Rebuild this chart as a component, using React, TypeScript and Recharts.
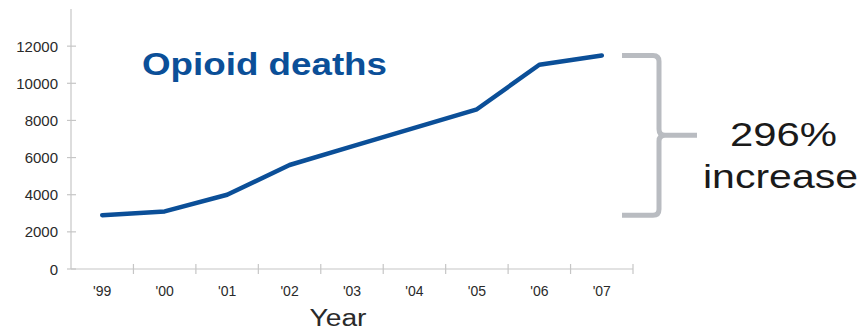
import React from "react";
import { LineChart, Line, XAxis, YAxis } from "recharts";

// Opioid deaths per year, 1999–2007
const years = ["'99", "'00", "'01", "'02", "'03", "'04", "'05", "'06", "'07"];
const deaths = [2900, 3100, 4000, 5600, 6600, 7600, 8600, 11000, 11500];
const yTicks = [0, 2000, 4000, 6000, 8000, 10000, 12000];
const Y_MAX = 14000;

const increaseLabel = ["296%", "increase"];
const titleText = "Opioid deaths";
const xAxisTitle = "Year";

const data = years.map((year, i) => ({ year, deaths: deaths[i] }));

// Layout
const W = 866;
const H = 331;
const MARGIN = { top: 9, right: 233, bottom: 0, left: 0 };
const Y_AXIS_W = 71;
const X_AXIS_H = 62;
const plotLeft = MARGIN.left + Y_AXIS_W;
const plotRight = W - MARGIN.right;
const plotTop = MARGIN.top;
const plotBottom = H - MARGIN.bottom - X_AXIS_H;
const band = (plotRight - plotLeft) / years.length;
const yFor = (v: number) => plotBottom - (v / Y_MAX) * (plotBottom - plotTop);

const AXIS_COLOR = "#c6c6c6";
const TEXT_COLOR = "#2a2a2a";
const BLUE = "#0b4f98";
const BRACKET = "#b9bcc1";
const FONT = "'Liberation Sans', Arial, sans-serif";

const XTick = (props: any) => {
  const { x, payload } = props;
  const mx = x + band / 2;
  return (
    <g>
      <line x1={mx} x2={mx} y1={plotBottom - 5} y2={plotBottom + 5} stroke={AXIS_COLOR} strokeWidth={1.2} />
      <text x={x} y={plotBottom + 27} textAnchor="middle" fontSize={14} fontFamily={FONT} fill={TEXT_COLOR}>
        {payload.value}
      </text>
    </g>
  );
};

const YTick = (props: any) => {
  const { y, payload } = props;
  return (
    <g>
      <line x1={plotLeft - 4} x2={plotLeft + 5} y1={y} y2={y} stroke={AXIS_COLOR} strokeWidth={1.2} />
      <text x={58} y={y + 5.5} textAnchor="end" fontSize={15} fontFamily={FONT} fill={TEXT_COLOR}>
        {payload.value}
      </text>
    </g>
  );
};

// Curly bracket spanning first to last value
const Bracket = () => {
  const yTop = yFor(deaths[deaths.length - 1]);
  const yBot = yFor(deaths[0]);
  const yMid = (yTop + yBot) / 2;
  const x0 = 622;
  const xv = 659;
  const xn = 697;
  const r = 6;
  const d = [
    `M ${x0} ${yTop} H ${xv - r} Q ${xv} ${yTop} ${xv} ${yTop + r}`,
    `V ${yMid - r} Q ${xv} ${yMid} ${xv + r} ${yMid} H ${xn}`,
    `M ${xv + r} ${yMid} Q ${xv} ${yMid} ${xv} ${yMid + r}`,
    `V ${yBot - r} Q ${xv} ${yBot} ${xv - r} ${yBot} H ${x0}`,
  ].join(" ");
  return <path d={d} fill="none" stroke={BRACKET} strokeWidth={5} />;
};

export default function App() {
  return (
    <div style={{ position: "absolute", left: 0, top: 0, width: W, height: H, background: "#fff" }}>
      <LineChart width={W} height={H} data={data} margin={MARGIN}>
        <XAxis
          dataKey="year"
          height={X_AXIS_H}
          padding={{ left: band / 2, right: band / 2 }}
          axisLine={{ stroke: AXIS_COLOR, strokeWidth: 1.2 }}
          tickLine={false}
          tick={<XTick />}
          interval={0}
        />
        <YAxis
          width={Y_AXIS_W}
          domain={[0, Y_MAX]}
          ticks={yTicks}
          interval={0}
          axisLine={{ stroke: AXIS_COLOR, strokeWidth: 1.2 }}
          tickLine={false}
          tick={<YTick />}
        />
        <Line
          type="linear"
          dataKey="deaths"
          stroke={BLUE}
          strokeWidth={4.5}
          strokeLinecap="round"
          strokeLinejoin="round"
          dot={false}
          isAnimationActive={false}
        />
        <text
          x={142}
          y={75}
          fontSize={32}
          fontWeight="bold"
          fontFamily={FONT}
          fill={BLUE}
          textLength={245}
          lengthAdjust="spacingAndGlyphs"
        >
          {titleText}
        </text>
        <text
          x={338}
          y={326}
          textAnchor="middle"
          fontSize={23}
          fontFamily={FONT}
          fill={TEXT_COLOR}
          textLength={57}
          lengthAdjust="spacingAndGlyphs"
        >
          {xAxisTitle}
        </text>
        <Bracket />
        <text
          x={730}
          y={146}
          fontSize={33}
          fontFamily={FONT}
          fill="#1a1a1a"
          textLength={107}
          lengthAdjust="spacingAndGlyphs"
        >
          {increaseLabel[0]}
        </text>
        <text
          x={703}
          y={188}
          fontSize={33}
          fontFamily={FONT}
          fill="#1a1a1a"
          textLength={155}
          lengthAdjust="spacingAndGlyphs"
        >
          {increaseLabel[1]}
        </text>
      </LineChart>
    </div>
  );
}
